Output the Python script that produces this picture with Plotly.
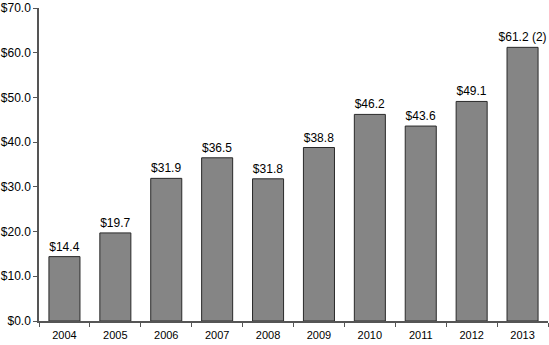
import plotly.graph_objects as go

years = ["2004", "2005", "2006", "2007", "2008", "2009", "2010", "2011", "2012", "2013"]
values = [14.4, 19.7, 31.9, 36.5, 31.8, 38.8, 46.2, 43.6, 49.1, 61.2]
labels = ["$14.4", "$19.7", "$31.9", "$36.5", "$31.8", "$38.8", "$46.2", "$43.6", "$49.1", "$61.2 (2)"]
y_ticks = [0, 10, 20, 30, 40, 50, 60, 70]
y_tick_labels = ["$%.1f" % v for v in y_ticks]

fig = go.Figure(go.Bar(
    x=years, y=values, text=labels, textposition="outside", constraintext="none",
    textfont=dict(size=12, color="black", family="Liberation Sans, Arial, sans-serif"),
    marker=dict(color="#858585", line=dict(color="#2a2a2a", width=1)),
    cliponaxis=False,
))

fig.update_layout(
    width=549, height=345,
    margin=dict(l=36, r=1, t=7, b=24),
    paper_bgcolor="white", plot_bgcolor="white",
    bargap=0.39,
    showlegend=False,
    font=dict(family="Liberation Sans, Arial, sans-serif", color="black"),
)
fig.update_xaxes(
    type="category", showgrid=False, showline=True, linecolor="#555555", linewidth=1.5,
    ticks="outside", ticklen=4, tickcolor="#555555", tickson="boundaries",
    tickfont=dict(size=11), zeroline=False, ticklabelstandoff=3,
)
fig.update_yaxes(
    range=[0, 70], tickvals=y_ticks, ticktext=y_tick_labels, showgrid=False,
    showline=True, linecolor="#555555", linewidth=1.5,
    ticks="outside", ticklen=4, tickcolor="#555555", tickfont=dict(size=12),
    zeroline=False,
)

fig.write_html("out.html")
